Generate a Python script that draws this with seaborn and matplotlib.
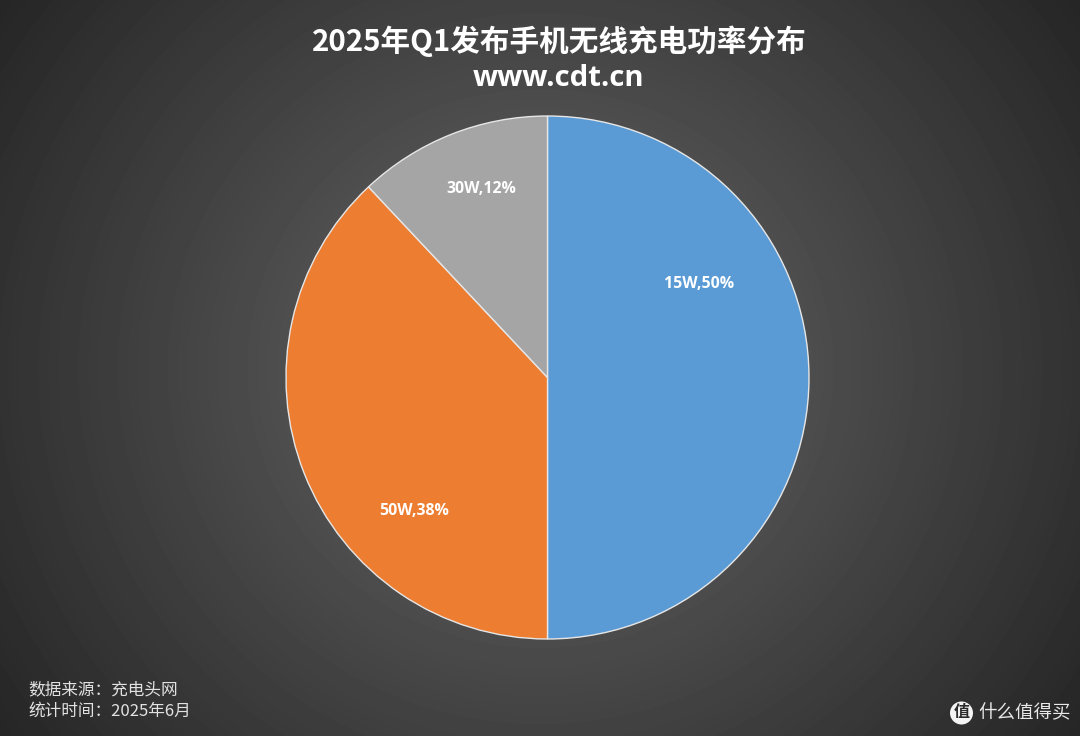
import numpy as np
import matplotlib
matplotlib.use("Agg")
import matplotlib.pyplot as plt
import seaborn as sns

# Wireless charging power share of phones released in 2025 Q1
power_levels = ["15W", "50W", "30W"]
shares = [50, 38, 12]
slice_colors = ["#5B9BD5", "#ED7D31", "#A5A5A5"]

title_text = "2025年Q1发布手机无线充电功率分布"
subtitle_text = "www.cdt.cn"
source_lines = ["数据来源：充电头网", "统计时间：2025年6月"]
brand_text = "什么值得买"

sns.set_theme(style="white")
plt.rcParams["font.family"] = ["Noto Sans CJK SC", "DejaVu Sans"]

W, H = 1080, 736
fig = plt.figure(figsize=(W / 100, H / 100), dpi=100)

# Dark radial gradient backdrop
bg = fig.add_axes([0, 0, 1, 1])
yy, xx = np.mgrid[0:H, 0:W]
dist = np.hypot((xx - 540) / 660, (yy - 368) / 630)
inner, outer = 0x68, 0x26
level = inner + (outer - inner) * np.clip(dist, 0, 1)
bg.imshow(level, cmap="gray", vmin=0, vmax=255, extent=(0, W, H, 0), aspect="auto")
bg.set_xlim(0, W)
bg.set_ylim(H, 0)
bg.axis("off")

# Pie axes sized in pixels around the circle
cx, cy, r = 547.5, 377.5, 261.5
ax = fig.add_axes([(cx - r) / W, 1 - (cy + r) / H, 2 * r / W, 2 * r / H])
ax.patch.set_alpha(0)
wedges, _ = ax.pie(
    shares,
    colors=slice_colors,
    startangle=90,
    counterclock=False,
    radius=1,
    wedgeprops={"edgecolor": "#E6E6E6", "linewidth": 1.0},
)
ax.set_xlim(-1, 1)
ax.set_ylim(-1, 1)

# Slice labels, placed in units of the pie radius
label_anchor = [(0.58, 0.358), (-0.51, -0.511), (-0.254, 0.72)]
for (lx, ly), name, val in zip(label_anchor, power_levels, shares):
    ax.text(lx, ly, f"{name},{val}%", color="white", fontsize=11.4, fontweight="bold",
            ha="center", va="center", family=["Open Sans", "DejaVu Sans"])

bg.text(559, 41, title_text, color="white", fontsize=21.3, fontweight="bold", ha="center", va="center")
bg.text(559, 78.5, subtitle_text, color="white", fontsize=21.2, fontweight="bold", ha="center", va="center",
        family=["Open Sans", "DejaVu Sans"])

bg.text(28, 690, source_lines[0], color="#E2E2E2", fontsize=12, ha="left", va="center")
bg.text(28, 711, source_lines[1], color="#E2E2E2", fontsize=12, ha="left", va="center")

# Brand mark in the lower right corner
bg.add_patch(plt.Circle((961.5, 713), 11.5, color="#F4F4F4", lw=0))
bg.text(961.5, 712.5, "值", color="#2A2A2A", fontsize=11.5, fontweight="bold", ha="center", va="center")
bg.text(1025, 713, brand_text, color="#E8E8E8", fontsize=13.3, ha="center", va="center")

fig.savefig("out.png", dpi=100)
